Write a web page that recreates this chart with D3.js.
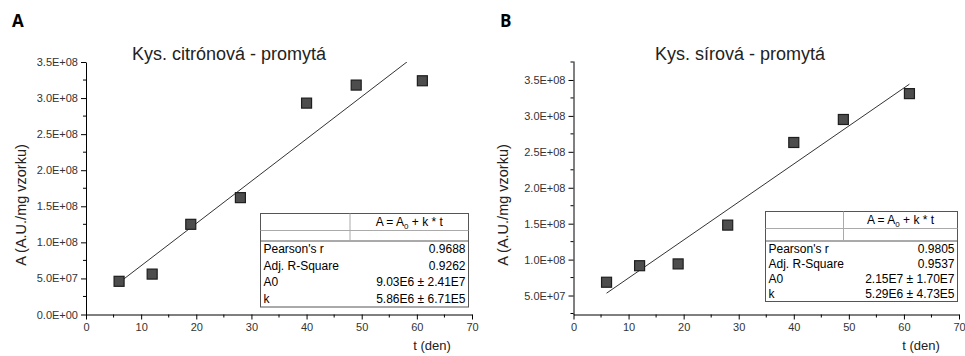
<!DOCTYPE html>
<html>
<head>
<meta charset="utf-8">
<script src="https://cdn.jsdelivr.net/npm/d3@7"></script>
<style>
  body { margin: 0; background: #fff; }
  svg text { font-family: "Liberation Sans", Arial, sans-serif; }
</style>
</head>
<body>
<div id="chart"></div>
<script>
// data
var days = [6, 12, 19, 28, 40, 49, 61]
var citricValues = [4.6e7, 5.6e7, 1.25e8, 1.62e8, 2.93e8, 3.18e8, 3.24e8]
var sulfuricValues = [6.85e7, 9.15e7, 9.4e7, 1.48e8, 2.63e8, 2.95e8, 3.31e8]
var citricFit = {a0: 9.03e6, k: 5.86e6}
var sulfuricFit = {a0: 2.15e7, k: 5.29e6}
var tableLabels = ["Pearson's r", 'Adj. R-Square', 'A0', 'k']
var citricTable = ['0.9688', '0.9262', '9.03E6 ± 2.41E7', '5.86E6 ± 6.71E5']
var sulfuricTable = ['0.9805', '0.9537', '2.15E7 ± 1.70E7', '5.29E6 ± 4.73E5']
var xTicks = [0, 10, 20, 30, 40, 50, 60, 70]
var yTicksA = [0, 5e7, 1e8, 1.5e8, 2e8, 2.5e8, 3e8, 3.5e8]
var yTicksB = [5e7, 1e8, 1.5e8, 2e8, 2.5e8, 3e8, 3.5e8]

var svg = d3.select('#chart').append('svg')
  .attr('width', 965)
  .attr('height', 356)

// 3.5E+08 style labels
function sciFormat (v) {
  if (v === 0) return '0.0E+00'
  var e = Math.floor(Math.log10(v))
  var m = v / Math.pow(10, e)
  return m.toFixed(1) + 'E+' + (e < 10 ? '0' + e : e)
}

function drawPanel (cfg) {
  var x = d3.scaleLinear().domain([0, 70]).range([cfg.left, cfg.right])
  var y = d3.scaleLinear().domain(cfg.yDomain).range([cfg.bottom, cfg.top])
  var g = svg.append('g')

  // panel letter
  g.append('text')
    .attr('x', cfg.letterX).attr('y', 27)
    .style('font-family', 'Open Sans, sans-serif')
    .style('font-weight', 'bold')
    .style('font-size', '17px')
    .text(cfg.letter)

  // title
  g.append('text')
    .attr('x', cfg.titleX).attr('y', 60)
    .attr('text-anchor', 'middle')
    .style('font-size', '18px')
    .attr('fill', '#222')
    .text(cfg.title)

  // minor ticks
  var xMinor = d3.range(5, 70, 10)
  var yMinor = d3.range(2.5e7, cfg.yDomain[1], 5e7)

  var xAxis = g.append('g')
    .attr('transform', 'translate(0,' + cfg.bottom + ')')
    .call(d3.axisBottom(x).tickValues(xTicks).tickSize(5).tickSizeOuter(0).tickPadding(4))
  xAxis.selectAll('text').style('font-size', '11px').attr('fill', '#333')
  xAxis.append('g').selectAll('line')
    .data(xMinor)
    .enter()
    .append('line')
    .attr('x1', function (d) { return x(d) }).attr('x2', function (d) { return x(d) })
    .attr('y1', 0).attr('y2', 3)
    .attr('stroke', '#000')

  var yAxis = g.append('g')
    .attr('transform', 'translate(' + cfg.left + ',0)')
    .call(d3.axisLeft(y).tickValues(cfg.yTicks).tickFormat(sciFormat).tickSize(5).tickSizeOuter(0).tickPadding(3))
  yAxis.selectAll('text').style('font-size', '11px').attr('fill', '#333')
  yAxis.append('g').selectAll('line')
    .data(yMinor)
    .enter()
    .append('line')
    .attr('y1', function (d) { return y(d) }).attr('y2', function (d) { return y(d) })
    .attr('x1', 0).attr('x2', -3)
    .attr('stroke', '#000')

  // axis labels
  g.append('text')
    .attr('x', cfg.xLabelX).attr('y', 350)
    .attr('text-anchor', 'middle')
    .style('font-size', '13px')
    .attr('fill', '#222')
    .text('t (den)')
  g.append('text')
    .attr('text-anchor', 'middle')
    .attr('transform', 'translate(' + cfg.yLabelX + ',205)rotate(-90)')
    .style('font-size', '14.5px')
    .attr('fill', '#222')
    .text('A (A.U./mg vzorku)')

  // fit line, clipped to plot area
  var clipId = 'clip' + cfg.letter
  g.append('clipPath').attr('id', clipId)
    .append('rect')
    .attr('x', cfg.left).attr('y', cfg.top)
    .attr('width', cfg.right - cfg.left).attr('height', cfg.bottom - cfg.top)
  var fitLine = d3.line()
    .x(function (d) { return x(d) })
    .y(function (d) { return y(cfg.fit.a0 + cfg.fit.k * d) })
  g.append('path')
    .datum([days[0], days[days.length - 1]])
    .attr('clip-path', 'url(#' + clipId + ')')
    .attr('d', fitLine)
    .attr('fill', 'none')
    .attr('stroke', '#333')
    .attr('stroke-width', 1)

  // markers
  var s = 10
  g.selectAll('rect.pt')
    .data(days)
    .enter()
    .append('rect')
    .attr('class', 'pt')
    .attr('x', function (d) { return x(d) - s / 2 })
    .attr('y', function (d, i) { return y(cfg.values[i]) - s / 2 })
    .attr('width', s).attr('height', s)
    .attr('fill', '#4d4d4d')
    .attr('stroke', '#1e1e1e')
    .attr('stroke-width', 1.2)

  // fit table
  var t = cfg.table
  var tb = g.append('g')
  tb.append('rect')
    .attr('x', t.x).attr('y', t.y).attr('width', t.w).attr('height', t.h)
    .attr('fill', '#fff').attr('stroke', '#555')
  tb.append('line')
    .attr('x1', t.x).attr('x2', t.x + t.w)
    .attr('y1', t.y + t.head).attr('y2', t.y + t.head)
    .attr('stroke', '#aaa')
  tb.append('line')
    .attr('x1', t.x).attr('x2', t.x + t.w)
    .attr('y1', t.y + t.head + t.blank).attr('y2', t.y + t.head + t.blank)
    .attr('stroke', '#555')
  tb.append('line')
    .attr('x1', t.div).attr('x2', t.div)
    .attr('y1', t.y).attr('y2', t.y + t.head + t.blank)
    .attr('stroke', '#aaa')

  var head = tb.append('text')
    .attr('x', (t.div + t.x + t.w) / 2).attr('y', t.y + t.head / 2 + 4)
    .attr('text-anchor', 'middle')
    .style('font-size', '12px')
  head.append('tspan').text('A = A')
  head.append('tspan').attr('dy', 3).style('font-size', '8px').text('0')
  head.append('tspan').attr('dy', -3).text(' + k * t')

  var rowH = (t.h - t.head - t.blank) / tableLabels.length
  var top0 = t.y + t.head + t.blank
  tb.selectAll('text.lbl')
    .data(tableLabels)
    .enter()
    .append('text')
    .attr('class', 'lbl')
    .attr('x', t.x + 3)
    .attr('y', function (d, i) { return top0 + rowH * i + rowH / 2 + 4 })
    .style('font-size', '12px')
    .text(function (d) { return d })
  tb.selectAll('text.val')
    .data(cfg.tableValues)
    .enter()
    .append('text')
    .attr('class', 'val')
    .attr('x', t.x + t.w - 3)
    .attr('y', function (d, i) { return top0 + rowH * i + rowH / 2 + 4 })
    .attr('text-anchor', 'end')
    .style('font-size', '12px')
    .text(function (d) { return d })
}

drawPanel({
  letter: 'A', letterX: 12, title: 'Kys. citrónová - promytá', titleX: 229,
  left: 86, right: 472, top: 62, bottom: 314.5,
  yDomain: [0, 3.5e8], yTicks: yTicksA,
  values: citricValues, fit: citricFit, tableValues: citricTable,
  xLabelX: 432, yLabelX: 26,
  table: {x: 260.5, y: 213.5, w: 208, h: 93.5, head: 17, blank: 10.5, div: 350}
})

drawPanel({
  letter: 'B', letterX: 500, title: 'Kys. sírová - promytá', titleX: 740,
  left: 573.5, right: 959, top: 61, bottom: 314.5,
  yDomain: [2.36e7, 3.764e8], yTicks: yTicksB,
  values: sulfuricValues, fit: sulfuricFit, tableValues: sulfuricTable,
  xLabelX: 921, yLabelX: 508,
  table: {x: 765.5, y: 211.5, w: 192, h: 90, head: 17, blank: 12.5, div: 843.5}
})
</script>
</body>
</html>
